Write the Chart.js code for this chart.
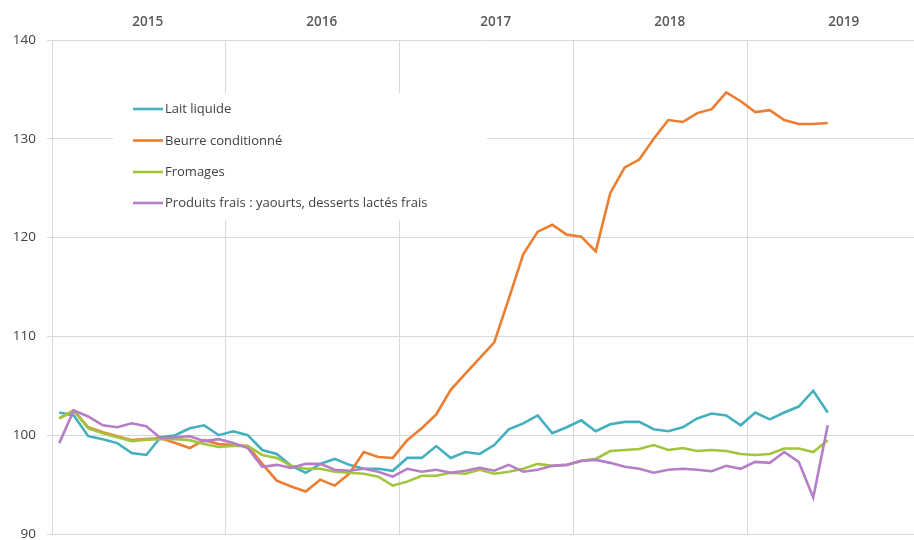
<!DOCTYPE html>
<html>
<head>
<meta charset="utf-8">
<script src="https://cdn.jsdelivr.net/npm/chart.js@4/dist/chart.umd.min.js"></script>
<style>
html,body{margin:0;padding:0;background:#fff;overflow:hidden}
#wrap{width:914px;height:540px;position:relative}
</style>
</head>
<body>
<div id="wrap"><canvas id="c" width="914" height="540"></canvas></div>
<script>
// ---- Data (monthly indices, Jan 2015 -> Jun 2019) ----
const years = ['2015', '2016', '2017', '2018', '2019'];
const monthNames = ['janv.', 'févr.', 'mars', 'avr.', 'mai', 'juin', 'juil.', 'août', 'sept.', 'oct.', 'nov.', 'déc.'];
const months = [];
years.forEach(y => monthNames.forEach(m => { if (months.length < 54) months.push(m + ' ' + y); }));

const seriesNames = ['Lait liquide', 'Beurre conditionné', 'Fromages', 'Produits frais : yaourts, desserts lactés frais'];

const laitLiquide = [
  102.3, 102.0, 99.9, 99.6, 99.2, 98.2, 98.0, 99.8, 100.0, 100.7,
  101.0, 100.0, 100.4, 100.0, 98.5, 98.1, 96.9, 96.2, 97.1, 97.6,
  97.0, 96.6, 96.6, 96.4, 97.7, 97.7, 98.9, 97.7, 98.3, 98.1,
  99.0, 100.6, 101.2, 102.0, 100.2, 100.8, 101.5, 100.4, 101.1, 101.35,
  101.35, 100.6, 100.4, 100.8, 101.7, 102.2, 102.0, 101.0, 102.3, 101.6,
  102.3, 102.9, 104.5, 102.3
];
const beurreConditionne = [
  101.7, 102.5, 100.8, 100.3, 99.9, 99.5, 99.6, 99.7, 99.2, 98.7,
  99.5, 99.1, 99.0, 98.9, 97.1, 95.4, 94.8, 94.3, 95.5, 94.9,
  96.1, 98.3, 97.8, 97.7, 99.5, 100.7, 102.1, 104.6, 106.2, 107.8,
  109.4, 113.8, 118.3, 120.6, 121.3, 120.3, 120.1, 118.6, 124.5, 127.1,
  127.9, 130.0, 131.9, 131.7, 132.6, 133.0, 134.7, 133.8, 132.7, 132.9,
  131.9, 131.5, 131.5, 131.6
];
const fromages = [
  101.7, 102.5, 100.7, 100.2, 99.8, 99.4, 99.55, 99.6, 99.6, 99.5,
  99.1, 98.8, 98.9, 98.9, 98.0, 97.7, 96.9, 96.6, 96.6, 96.3,
  96.2, 96.1, 95.8, 94.9, 95.3, 95.9, 95.9, 96.2, 96.1, 96.5,
  96.1, 96.3, 96.6, 97.1, 96.9, 97.0, 97.4, 97.6, 98.4, 98.5,
  98.6, 99.0, 98.5, 98.7, 98.4, 98.5, 98.4, 98.1, 98.0, 98.1,
  98.65, 98.65, 98.3, 99.5
];
const produitsFrais = [
  99.2, 102.5, 101.9, 101.0, 100.8, 101.2, 100.9, 99.7, 99.8, 99.9,
  99.4, 99.6, 99.2, 98.7, 96.8, 97.0, 96.7, 97.1, 97.1, 96.5,
  96.4, 96.6, 96.3, 95.8, 96.6, 96.3, 96.5, 96.2, 96.4, 96.7,
  96.4, 97.0, 96.3, 96.5, 96.9, 97.0, 97.4, 97.5, 97.2, 96.8,
  96.6, 96.2, 96.5, 96.6, 96.5, 96.35, 96.9, 96.6, 97.3, 97.2,
  98.3, 97.3, 93.7, 101.0
];
const yTicks = [90, 100, 110, 120, 130, 140];

// ---- Styling ----
const colors = ['#45b0bd', '#ed7d31', '#a2c53e', '#b57ec6'];
const FONT = '"Open Sans", "Liberation Sans", sans-serif';
const GRID = '#d9d9d9';
const X_MAX = 59.45; // months visible in the plot window

const seriesValues = [laitLiquide, beurreConditionne, fromages, produitsFrais];
const toPoints = arr => arr.map((v, i) => ({ x: i + 0.5, y: v, label: months[i] }));

const datasets = seriesValues.map((vals, k) => ({
  label: seriesNames[k],
  data: toPoints(vals),
  borderColor: colors[k],
  backgroundColor: colors[k],
  borderWidth: 2.6,
  pointRadius: 0,
  tension: 0,
  fill: false,
  order: 4 - k,
  xAxisID: 'x',
  yAxisID: 'y'
}));

const legendBox = {
  id: 'legendBox',
  beforeDatasetsDraw(chart) {
    const ctx = chart.ctx;
    ctx.save();
    ctx.fillStyle = '#ffffff';
    ctx.fillRect(113, 93, 374, 127);
    ctx.font = '13px ' + FONT;
    ctx.textBaseline = 'middle';
    ctx.textAlign = 'left';
    const rowY = [109, 140.5, 172, 203];
    chart.data.datasets.forEach((ds, k) => {
      const y = rowY[k];
      ctx.strokeStyle = ds.borderColor;
      ctx.lineWidth = 2.6;
      ctx.beginPath();
      ctx.moveTo(133, y);
      ctx.lineTo(163, y);
      ctx.stroke();
      ctx.fillStyle = '#404040';
      ctx.fillText(ds.label, 165, y + 0.5);
    });
    ctx.restore();
  }
};

new Chart(document.getElementById('c'), {
  type: 'line',
  data: { datasets },
  options: {
    responsive: false,
    animation: false,
    devicePixelRatio: 1,
    layout: { padding: 0 },
    plugins: { legend: { display: false }, tooltip: { enabled: false } },
    scales: {
      x: {
        type: 'linear',
        position: 'bottom',
        min: 0,
        max: X_MAX,
        afterBuildTicks: s => { s.ticks = years.map((y, i) => ({ value: i * 12 })); },
        ticks: { display: false },
        grid: { color: GRID, lineWidth: 1, drawTicks: false },
        border: { display: true, color: GRID },
        afterFit: s => { s.height = 6; s.paddingLeft = 0; s.paddingRight = 0; }
      },
      xTop: {
        type: 'linear',
        position: 'top',
        min: 0,
        max: X_MAX,
        afterBuildTicks: s => { s.ticks = years.map((y, i) => ({ value: i * 12 + 6.6 })); },
        ticks: {
          autoSkip: false,
          maxRotation: 0,
          padding: 10,
          color: '#595959',
          font: { family: FONT, size: 13.5, weight: '600' },
          callback: (v, i) => years[i]
        },
        grid: { display: false, drawTicks: false },
        border: { display: false },
        afterFit: s => { s.height = 40; s.paddingLeft = 0; s.paddingRight = 0; }
      },
      y: {
        type: 'linear',
        min: 90,
        max: 140,
        afterBuildTicks: s => { s.ticks = yTicks.map(v => ({ value: v })); },
        ticks: {
          padding: 11,
          color: '#404040',
          font: { family: FONT, size: 13.5 }
        },
        grid: { color: GRID, lineWidth: 1, drawTicks: true, tickLength: 5 },
        border: { display: true, color: GRID },
        afterFit: s => { s.width = 52; s.paddingTop = 0; s.paddingBottom = 0; }
      }
    }
  },
  plugins: [legendBox]
});
</script>
</body>
</html>
